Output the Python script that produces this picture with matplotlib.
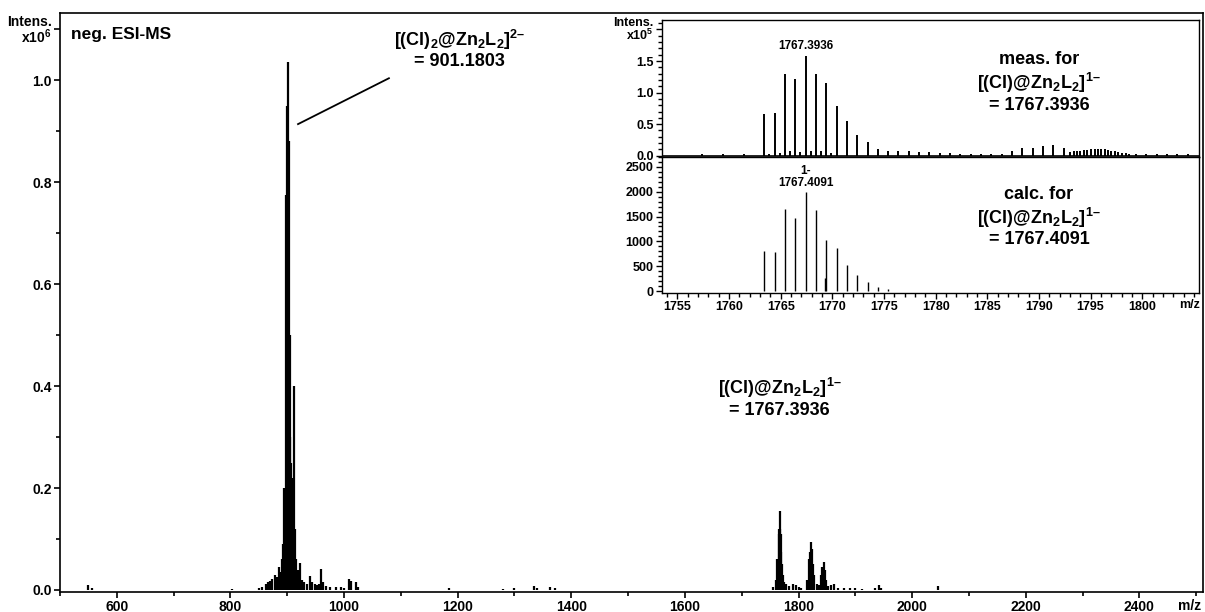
import matplotlib
matplotlib.use("Agg")
import matplotlib.pyplot as plt
from matplotlib.ticker import MultipleLocator, FixedLocator, FixedFormatter

plt.rcParams['font.family'] = ['Liberation Sans', 'DejaVu Sans']
plt.rcParams['font.weight'] = 'bold'
plt.rcParams['mathtext.fontset'] = 'custom'
plt.rcParams['mathtext.rm'] = 'Liberation Sans:bold'
plt.rcParams['mathtext.it'] = 'Liberation Sans:bold'
plt.rcParams['mathtext.bf'] = 'Liberation Sans:bold'

# full spectrum, intensity in units of 1e6
main_mz = [550, 556, 802,
           850, 855, 862, 866, 870, 874, 878, 882, 885, 888, 891, 893, 895,
           897, 899, 900, 901, 902, 903, 904, 905, 906, 908, 910, 912, 914,
           916, 919, 923, 926, 930, 935, 940, 944, 948, 952, 956, 960, 963,
           968, 975, 985, 995, 1000, 1008, 1012, 1021, 1025,
           1185, 1280, 1300, 1335, 1340, 1362, 1372,
           1755, 1760, 1763, 1764, 1765, 1766, 1767, 1768, 1769, 1770, 1771,
           1772, 1774, 1778, 1783, 1790, 1795, 1800, 1805,
           1815, 1818, 1820, 1822, 1824, 1826, 1828, 1832, 1836, 1840, 1842,
           1844, 1846, 1848, 1852, 1858, 1862, 1870, 1880, 1890, 1900, 1912,
           1935, 1942, 1946, 2045]
main_int = [0.010, 0.003, 0.002,
            0.004, 0.005, 0.012, 0.015, 0.018, 0.022, 0.030, 0.025, 0.045, 0.035, 0.060, 0.090, 0.200,
            0.775, 0.600, 0.950, 1.035, 0.700, 0.880, 0.500, 0.300, 0.250, 0.200, 0.220, 0.400, 0.120,
            0.060, 0.040, 0.052, 0.020, 0.015, 0.012, 0.028, 0.015, 0.012, 0.010, 0.012, 0.042, 0.015,
            0.008, 0.005, 0.006, 0.005, 0.004, 0.022, 0.018, 0.016, 0.006,
            0.003, 0.002, 0.004, 0.008, 0.004, 0.006, 0.003,
            0.005, 0.020, 0.060, 0.060, 0.120, 0.110, 0.155, 0.120, 0.110, 0.075, 0.050,
            0.030, 0.015, 0.012, 0.008, 0.012, 0.010, 0.005, 0.004,
            0.020, 0.060, 0.075, 0.095, 0.080, 0.050, 0.030, 0.012, 0.010, 0.030, 0.045,
            0.055, 0.040, 0.020, 0.008, 0.010, 0.012, 0.004, 0.003, 0.003, 0.003, 0.002,
            0.004, 0.009, 0.004, 0.007]

# inset, measured (x1e5)
meas_mz = [1757.4, 1759.4, 1761.4, 1763.4, 1763.9, 1764.4, 1764.9, 1765.4, 1765.9,
           1766.4, 1766.9, 1767.4, 1767.9, 1768.4, 1768.9, 1769.4, 1769.9, 1770.4,
           1771.4, 1772.4, 1773.4, 1774.4, 1775.4, 1776.4, 1777.4, 1778.4, 1779.4,
           1780.4, 1781.4, 1782.4, 1783.4, 1784.4, 1785.4, 1786.4,
           1787.4, 1788.4, 1789.4, 1790.4, 1791.4, 1792.4,
           1793.0, 1793.4, 1793.7, 1794.0, 1794.4, 1794.7, 1795.0, 1795.4, 1795.7,
           1796.0, 1796.4, 1796.7, 1797.0, 1797.4, 1797.7, 1798.0, 1798.4, 1798.7,
           1799.4, 1800.4, 1801.4, 1802.4, 1803.4, 1804.4]
meas_int = [0.03, 0.03, 0.02, 0.66, 0.03, 0.67, 0.05, 1.29, 0.08,
            1.21, 0.06, 1.58, 0.07, 1.29, 0.08, 1.15, 0.04, 0.79,
            0.55, 0.33, 0.21, 0.10, 0.07, 0.07, 0.08, 0.06, 0.06,
            0.05, 0.04, 0.03, 0.02, 0.02, 0.02, 0.03,
            0.08, 0.12, 0.13, 0.15, 0.17, 0.12,
            0.06, 0.07, 0.07, 0.08, 0.09, 0.09, 0.10, 0.11, 0.10,
            0.10, 0.11, 0.09, 0.08, 0.07, 0.06, 0.05, 0.04, 0.03,
            0.02, 0.02, 0.02, 0.02, 0.03, 0.02]

# inset, calculated
calc_mz = [1763.4, 1764.4, 1765.4, 1766.4, 1767.4, 1768.4, 1769.3, 1769.4, 1770.4,
           1771.4, 1772.4, 1773.4, 1774.4, 1775.4, 1776.4]
calc_int = [804, 784, 1648, 1474, 1997, 1628, 256, 1025, 858,
            523, 330, 180, 90, 40, 10]

ion1 = '[(Cl)@Zn$_2$L$_2$]$^{1–}$'
ion2 = '[(Cl)$_2$@Zn$_2$L$_2$]$^{2–}$'

fig = plt.figure(figsize=(12.05, 6.12), dpi=100)

# main spectrum
ax = fig.add_axes([60/1205, 20/612, 1143/1205, 579/612])
ax.vlines(main_mz, 0, main_int, color='black', lw=1.6)
ax.set_xlim(500, 2512)
ax.set_ylim(-0.004, 1.132)
ax.xaxis.set_major_locator(MultipleLocator(200))
ax.xaxis.set_minor_locator(MultipleLocator(100))
yt = [0.0, 0.2, 0.4, 0.6, 0.8, 1.0, 1.1]
ax.yaxis.set_major_locator(FixedLocator(yt))
ax.yaxis.set_major_formatter(FixedFormatter(['0.0', '0.2', '0.4', '0.6', '0.8', '1.0',
                                             'Intens.\nx10$^6$']))
ax.yaxis.set_minor_locator(MultipleLocator(0.1))
ax.tick_params(which='both', direction='out', width=1.2, labelsize=10)
ax.tick_params(which='major', length=4, pad=2)
ax.tick_params(which='minor', length=3)
for lab in ax.get_xticklabels() + ax.get_yticklabels():
    lab.set_fontweight('bold')
    lab.set_linespacing(0.95)
for s in ax.spines.values():
    s.set_linewidth(1.2)
ax.text((1190 - 60) / 1143, -0.012, 'm/z', transform=ax.transAxes, ha='center', va='top',
        fontsize=10, fontweight='bold')
ax.text(0.01, 0.975, 'neg. ESI-MS', transform=ax.transAxes, ha='left', va='top',
        fontsize=12.5, fontweight='bold')

ax.plot([919, 1079], [0.914, 1.004], color='black', lw=1.3)
ax.text(1204, 1.08, ion2, ha='center', va='center', fontsize=13, fontweight='bold')
ax.text(1204, 1.037, '= 901.1803', ha='center', va='center', fontsize=13, fontweight='bold')
ax.text(1767, 0.396, ion1, ha='center', va='center', fontsize=13, fontweight='bold')
ax.text(1767, 0.353, '= 1767.3936', ha='center', va='center', fontsize=13, fontweight='bold')

# inset panels
left, width = 662/1205, 537/1205
ax1 = fig.add_axes([left, (612-157)/612, width, 137/612])
ax2 = fig.add_axes([left, (612-293)/612, width, 136/612], sharex=ax1)
for a in (ax1, ax2):
    a.set_facecolor('white')
    for s in a.spines.values():
        s.set_linewidth(1.0)
    a.tick_params(which='both', direction='out', width=1.0, labelsize=9)
    a.tick_params(which='major', length=4, pad=2)
    a.tick_params(which='minor', length=3)

ax1.vlines(meas_mz, 0, meas_int, color='black', lw=1.4)
ax1.axhline(0, color='black', lw=1.2)
ax1.set_xlim(1753.5, 1805.5)
ax1.set_ylim(-0.02, 2.15)
ax1.yaxis.set_major_locator(FixedLocator([0.0, 0.5, 1.0, 1.5, 2.0]))
ax1.yaxis.set_major_formatter(FixedFormatter(['0.0', '0.5', '1.0', '1.5', 'Intens.\nx10$^5$']))
ax1.yaxis.set_minor_locator(MultipleLocator(0.1))
ax1.tick_params(axis='x', which='both', bottom=False, labelbottom=False)

ax2.vlines(calc_mz, 0, calc_int, color='black', lw=1.0)
ax2.set_ylim(-40, 2700)
ax2.yaxis.set_major_locator(FixedLocator([0, 500, 1000, 1500, 2000, 2500]))
ax2.yaxis.set_minor_locator(MultipleLocator(100))
ax2.xaxis.set_major_locator(FixedLocator([1755, 1760, 1765, 1770, 1775, 1780, 1785, 1790,
                                          1795, 1800]))
ax2.xaxis.set_minor_locator(MultipleLocator(1))
for a in (ax1, ax2):
    for lab in a.get_xticklabels() + a.get_yticklabels():
        lab.set_fontweight('bold')
        lab.set_linespacing(0.9)
ax2.text((1190 - 662) / 537, -0.045, 'm/z', transform=ax2.transAxes, ha='center', va='top',
         fontsize=9, fontweight='bold')

ax1.text(1767.4, 1.64, '1767.3936', ha='center', va='bottom', fontsize=8.5, fontweight='bold')
ax2.text(1767.4, 2060, '1-\n1767.4091', ha='center', va='bottom', fontsize=8.5,
         fontweight='bold', linespacing=1.0)

ax1.text(1790, 1.52, 'meas. for', ha='center', va='center', fontsize=13, fontweight='bold')
ax1.text(1790, 1.16, ion1, ha='center', va='center', fontsize=13, fontweight='bold')
ax1.text(1790, 0.80, '= 1767.3936', ha='center', va='center', fontsize=13, fontweight='bold')
ax2.text(1790, 1935, 'calc. for', ha='center', va='center', fontsize=13, fontweight='bold')
ax2.text(1790, 1472, ion1, ha='center', va='center', fontsize=13, fontweight='bold')
ax2.text(1790, 1028, '= 1767.4091', ha='center', va='center', fontsize=13, fontweight='bold')

fig.savefig('out.png', dpi=100)
